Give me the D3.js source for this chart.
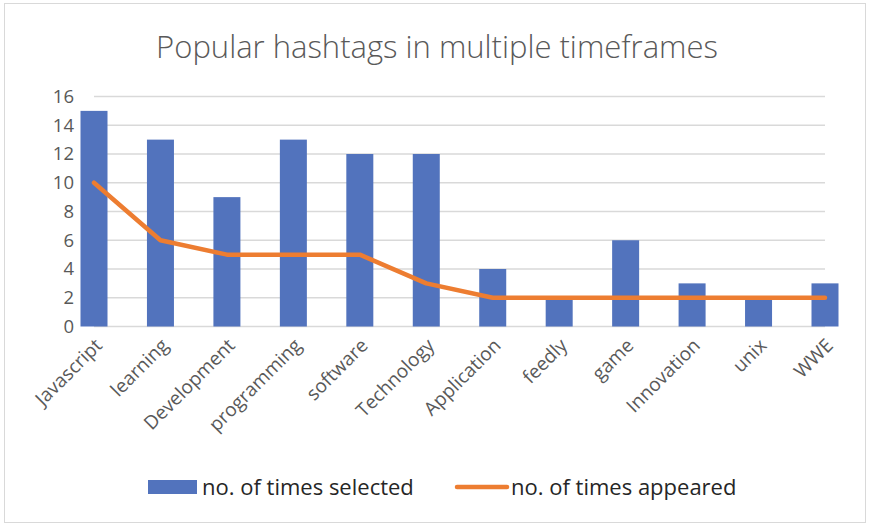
<!DOCTYPE html>
<html><head><meta charset="utf-8">
<script src="https://cdn.jsdelivr.net/npm/d3@7"></script>
<style>
html,body{margin:0;padding:0;background:#fff;}
svg{display:block;}
text{font-family:"Open Sans","Noto Sans",sans-serif;}
</style></head>
<body>
<svg id="chart" width="869" height="525"></svg>
<script>
const categories = ["Javascript","learning","Development","programming","software","Technology","Application","feedly","game","Innovation","unix","WWE"];
const timesSelected = [15,13,9,13,12,12,4,2,6,3,2,3];
const timesAppeared = [10,6,5,5,5,3,2,2,2,2,2,2];
const yTicks = [0,2,4,6,8,10,12,14,16];
const seriesNames = ["no. of times selected","no. of times appeared"];
const title = "Popular hashtags in multiple timeframes";

const svg = d3.select("#chart");

// outer border
svg.append("rect").attr("x",4.5).attr("y",3.5).attr("width",861).attr("height",519)
  .attr("fill","#fff").attr("stroke","#d9d9d9").attr("stroke-width",1);

const x = d3.scalePoint().domain(categories).range([94, 825]);
const y = d3.scaleLinear().domain([0,16]).range([326.5, 96.5]);
const barW = 27;

// gridlines
svg.append("g").selectAll("line").data(yTicks).join("line")
  .attr("x1", x.range()[0]).attr("x2", x.range()[1])
  .attr("y1", d=>y(d)).attr("y2", d=>y(d))
  .attr("stroke","#d9d9d9").attr("stroke-width",1.3);

// y axis labels
const yAxis = d3.axisLeft(y).tickValues(yTicks).tickSize(0).tickPadding(0);
const gy = svg.append("g").attr("transform","translate(74,0)").call(yAxis);
gy.select(".domain").remove();
gy.selectAll("text").attr("fill","#595959").attr("font-size","18.5px")
  .style("font-family","'Open Sans',sans-serif");

// bars
svg.append("g").selectAll("rect").data(categories).join("rect")
  .attr("x", (d)=>x(d)-barW/2)
  .attr("width", barW)
  .attr("y", (d,i)=>y(timesSelected[i]))
  .attr("height", (d,i)=>y(0)-y(timesSelected[i]))
  .attr("fill","#5273bd");

// line
const line = d3.line().x((d,i)=>x(categories[i])).y(d=>y(d));
svg.append("path").datum(timesAppeared).attr("d", line)
  .attr("fill","none").attr("stroke","#ed7d31").attr("stroke-width",4.5)
  .attr("stroke-linejoin","round").attr("stroke-linecap","round");

// x axis labels
const xAxis = d3.axisBottom(x).tickSize(0).tickPadding(0);
const gx = svg.append("g").attr("transform","translate(0,334)").call(xAxis);
gx.select(".domain").remove();
gx.selectAll("text")
  .attr("text-anchor","end")
  .attr("font-size","19px")
  .attr("fill","#595959")
  .style("font-family","'Open Sans',sans-serif")
  .attr("dy","0.35em")
  .attr("transform","translate(4,8) rotate(-45)")
  .attr("y",0).attr("x",0);

// title
svg.append("text").attr("x",437).attr("y",58).attr("text-anchor","middle")
  .attr("font-size","31px").attr("font-weight",300).attr("fill","#595959").text(title);

// legend
const lg = svg.append("g");
lg.append("rect").attr("x",148).attr("y",480).attr("width",49).attr("height",14).attr("fill","#5273bd");
lg.append("text").attr("x",202).attr("y",495).attr("font-size","22px").attr("fill","#262626").text(seriesNames[0]);
lg.append("line").attr("x1",457).attr("x2",507).attr("y1",487).attr("y2",487)
  .attr("stroke","#ed7d31").attr("stroke-width",4.5).attr("stroke-linecap","round");
lg.append("text").attr("x",511).attr("y",495).attr("font-size","22px").attr("fill","#262626").text(seriesNames[1]);
</script>
</body></html>
